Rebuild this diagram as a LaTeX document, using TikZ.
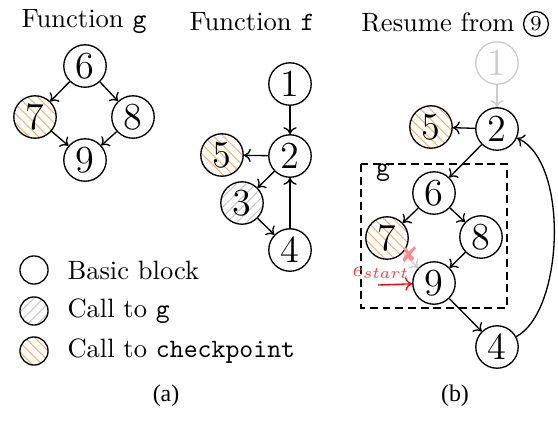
\documentclass[tikz,border=0pt]{standalone}
\usepackage{fontspec}
\newfontfamily\capfont{Liberation Serif}
\newfontfamily\symfont{DejaVu Sans}
\usetikzlibrary{arrows.meta,patterns.meta}

\definecolor{ckorange}{rgb}{0.97, 0.70, 0.42}
\definecolor{callgray}{rgb}{0.78, 0.78, 0.78}
\definecolor{fadegray}{rgb}{0.80, 0.80, 0.80}

\tikzset{
	block/.style={circle, draw, minimum size=16pt, inner sep=0pt, font=\Large},
	ckpt/.style={pattern={Lines[angle=-45,distance=2.6pt,line width=0.4pt]}, pattern color=ckorange},
	gcall/.style={pattern={Lines[angle=45,distance=2.6pt,line width=0.4pt]}, pattern color=callgray},
	keyblock/.style={circle, draw, minimum size=10.6pt, inner sep=0pt},
	gbox/.style={dash pattern=on 3pt off 1.8pt},
	caption/.style={font=\capfont\fontsize{9}{11}\selectfont}
}

\begin{document}
\begin{tikzpicture}[x=0.377pt,y=0.377pt,yscale=-1,xscale=1,line width=0.5pt,>={To[length=2.6pt,width=5pt]}]
		\useasboundingbox (0,0) rectangle (558,420);

		% Function g
		\node (gtitle) at (84,22) {Function \texttt{g}};
		\node[block] (gsix) at (85,66) {6};
		\node[block, ckpt] (gseven) at (35,117) {7};
		\node[block] (geight) at (133,117) {8};
		\node[block] (gnine) at (85,160) {9};
		\draw[->] (gsix) -- (gseven);
		\draw[->] (gsix) -- (geight);
		\draw[->] (gseven) -- (gnine);
		\draw[->] (geight) -- (gnine);

		% Function f
		\node (ftitle) at (252,22) {Function \texttt{f}};
		\node[block] (fone) at (290,84) {1};
		\node[block] (ftwo) at (290,156) {2};
		\node[block, ckpt] (ffive) at (222,155) {5};
		\node[block, gcall] (fthree) at (242,203) {3};
		\node[block] (ffour) at (290,250) {4};
		\draw[->] (fone) -- (ftwo);
		\draw[->] (ftwo) -- (ffive);
		\draw[->] (ftwo) -- (fthree);
		\draw[->] (fthree) -- (ffour);
		\draw[->] (ffour) -- (ftwo);

		% Legend
		\node[keyblock] (keybasic) at (34,270) {};
		\node[keyblock, gcall] (keycall) at (34,311) {};
		\node[keyblock, ckpt] (keyckpt) at (34,351) {};
		\node[anchor=west] (txtbasic) at (58,270) {Basic block};
		\node[anchor=west] (txtcall) at (58,311) {Call to \texttt{g}};
		\node[anchor=west] (txtckpt) at (58,351) {Call to \texttt{checkpoint}};

		\node[caption] (capa) at (166,396) {(a)};

		% Resume from 9
		\node (rtitle) at (438,22) {Resume from};
		\node[circle, draw, minimum size=9.4pt, inner sep=0pt, font=\footnotesize] (rtitlenine) at (536,24) {9};

		\node[block, draw=fadegray, text=fadegray] (rone) at (497,63) {1};
		\node[block] (rtwo) at (497,129) {2};
		\node[block, ckpt] (rfive) at (431,127) {5};
		\node[block] (rsix) at (434,193) {6};
		\node[block, ckpt] (rseven) at (387,238) {7};
		\node[block] (reight) at (481,237) {8};
		\node[block] (rnine) at (434,283) {9};
		\node[block] (rfour) at (497,347) {4};

		% Dashed box round g
		\draw[gbox] (361,164) rectangle (507,308);
		\node (rboxlabel) at (383,173) {\texttt{g}};

		\draw[->, fadegray] (rone) -- (rtwo);
		\draw[->] (rtwo) -- (rfive);
		\draw[->] (rtwo) -- (rsix);
		\draw[->] (rsix) -- (rseven);
		\draw[->] (rsix) -- (reight);
		\draw[->, fadegray] (rseven) -- (rnine);
		\draw[->] (reight) -- (rnine);
		\draw[->] (rnine) -- (rfour);
		\draw[->] (rfour) to[out=-45, in=40, looseness=0.75] (rtwo);

		% Entry edge and removed edge
		\coordinate (estart) at (378,285);
		\draw[->, red] (estart) -- (rnine);
		\node[text=red!75, font=\footnotesize] (estartlabel) at (381,273) {$e_{start}$};
		\node[text=red!45, font=\symfont\fontsize{8}{8}\selectfont] (cutmark) at (409,255) {✘};

		\node[caption] (capb) at (455,396) {(b)};
	\end{tikzpicture}
\end{document}
